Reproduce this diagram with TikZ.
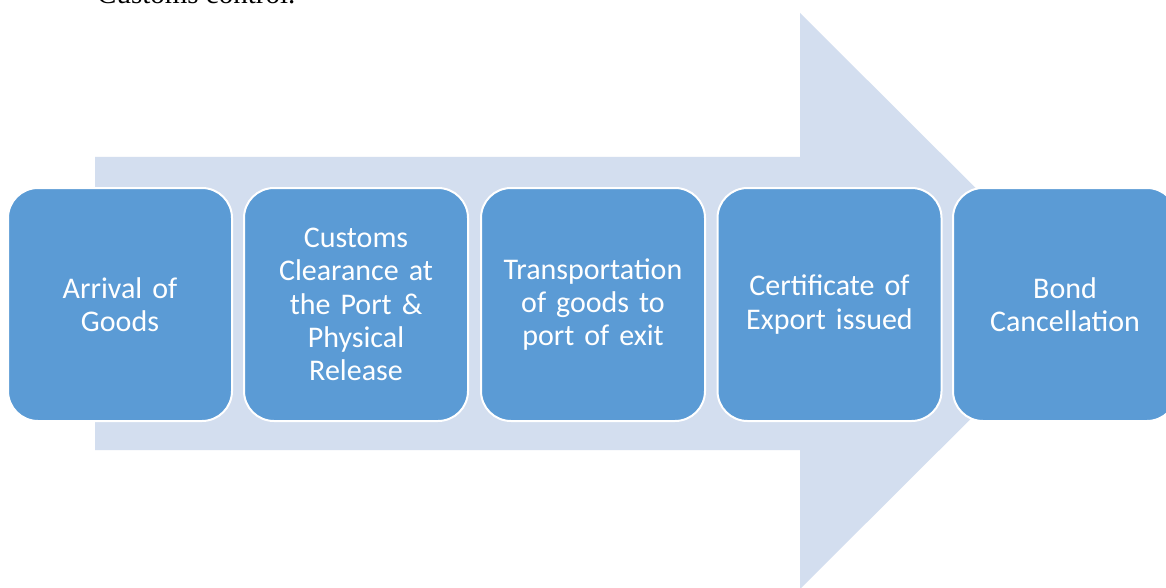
\documentclass[tikz,border=0pt]{standalone}
\usepackage{fontspec}
\setmainfont{Carlito}
\newfontfamily\docserif{Liberation Serif}
\definecolor{boxblue}{HTML}{5B9BD5}
\definecolor{arrowbg}{HTML}{D3DEEF}
\tikzset{
  stepbox/.style={rectangle, rounded corners=30pt, fill=boxblue, draw=white,
    line width=2pt, minimum width=224pt, minimum height=233pt, text=white,
    font=\fontsize{30}{33.3}\selectfont, align=center, text width=215pt, inner sep=0pt},
}
\begin{document}
\begin{tikzpicture}[x=1pt,y=-1pt]
\useasboundingbox (0,0) rectangle (1166,588);
\clip (0,0) rectangle (1166,588);
\fill[white] (0,0) rectangle (1166,588);
\node[anchor=base west, inner sep=0pt, font=\docserif\fontsize{29}{34}\selectfont] (top) at (97,4) {Customs control.};
\fill[arrowbg] (95,157) -- (800,157) -- (800,13) -- (1089,301) -- (800,589) -- (800,450) -- (95,450) -- cycle;
\node[stepbox] (s1) at (120,304.5) {Arrival of\\Goods};
\node[stepbox] (s2) at (356,304.5) {Customs\\Clearance at\\the Port \&\\Physical\\Release};
\node[stepbox] (s3) at (593,304.5) {Transportation\\of goods to\\port of exit};
\node[stepbox] (s4) at (829.5,304.5) {Certificate of\\Export issued};
\node[stepbox] (s5) at (1065,304.5) {Bond\\Cancellation};
\end{tikzpicture}
\end{document}
